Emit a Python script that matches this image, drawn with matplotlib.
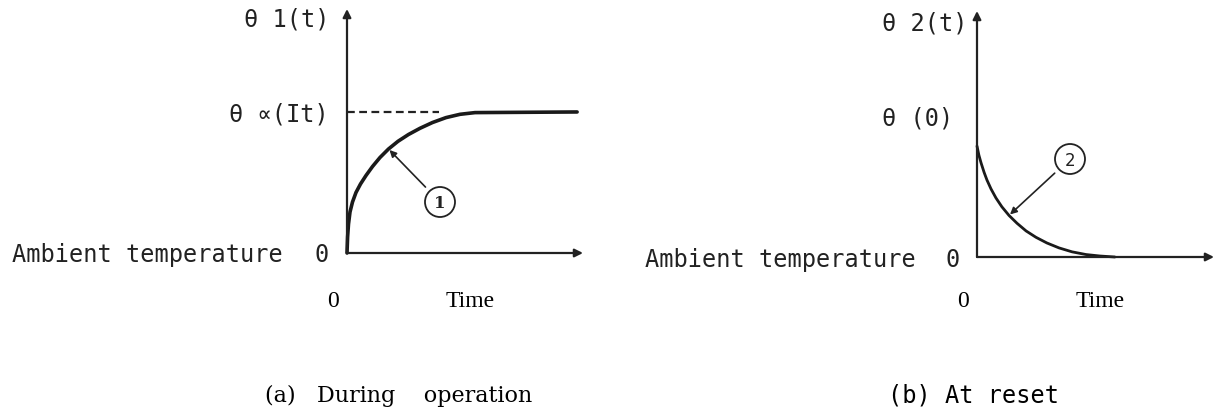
import matplotlib
matplotlib.use("Agg")
import matplotlib.pyplot as plt
from matplotlib.patches import Circle

# ---- data (normalised: time 0..1 along axis, temperature 0..1 along axis) ----
t_op = [0.0, 0.0025, 0.0064, 0.0127, 0.0233, 0.0381, 0.0572, 0.0805, 0.1081, 0.1398,
        0.1758, 0.2161, 0.2606, 0.3093, 0.3623, 0.4195, 0.4788, 0.5424, 0.975]
theta_op = [0.0, 0.0656, 0.1189, 0.1680, 0.2090, 0.2480, 0.2828, 0.3176, 0.3545, 0.3914,
            0.4262, 0.4578, 0.4857, 0.5111, 0.5348, 0.5549, 0.5684, 0.5754, 0.578]
theta_inf = 0.578          # steady-state level theta_inf(It)
dash_end = 0.39            # end of the dashed reference line

t_rs = [0.0, 0.008, 0.017, 0.030, 0.042, 0.059, 0.080, 0.105, 0.135, 0.169, 0.207,
        0.249, 0.295, 0.346, 0.401, 0.460, 0.519, 0.582]
theta_rs = [0.451, 0.414, 0.383, 0.344, 0.313, 0.277, 0.240, 0.204, 0.169, 0.137, 0.106,
            0.080, 0.057, 0.037, 0.021, 0.010, 0.004, 0.0]

W, H = 1221, 414
fig = plt.figure(figsize=(W / 100, H / 100), dpi=100)
fig.patch.set_facecolor("white")

MONO = ["DejaVu Sans Mono", "DejaVu Sans"]
SERIF = ["Liberation Serif", "DejaVu Serif"]
INK = "#222222"

# overlay axes in pixel coordinates for annotation text / circles
ov = fig.add_axes([0, 0, 1, 1])
ov.set_xlim(0, W)
ov.set_ylim(H, 0)
ov.axis("off")
ov.set_zorder(3)
ov.patch.set_alpha(0)


def panel(x0, y0, x1, y1):
    ax = fig.add_axes([x0 / W, 1 - y0 / H, (x1 - x0) / W, (y0 - y1) / H])
    ax.set_xlim(0, 1)
    ax.set_ylim(0, 1)
    ax.axis("off")
    ax.patch.set_alpha(0)
    for end in [(1, 0), (0, 1)]:
        ax.annotate("", xy=end, xytext=(0, 0),
                    arrowprops=dict(arrowstyle="-|>", lw=1.6, color=INK,
                                    mutation_scale=12, shrinkA=0, shrinkB=0),
                    annotation_clip=False)
    return ax


# ---------------- (a) During operation ----------------
ax1 = panel(347, 254, 583, 10)
ax1.plot([0, dash_end], [theta_inf, theta_inf], ls=(0, (3.5, 2)), lw=1.6, color=INK)
ax1.plot(t_op, theta_op, lw=2.6, color="#1a1a1a", solid_capstyle="round",
         solid_joinstyle="round", clip_on=False)

ov.text(329, 20, "θ 1(t)", family=MONO, fontsize=17, ha="right", va="center", color=INK)
ov.text(329, 115, "θ ∝(It)", family=MONO, fontsize=17, ha="right", va="center", color=INK)
ov.text(12, 255, "Ambient temperature", family=MONO, fontsize=17, ha="left", va="center", color=INK)
ov.text(322, 255, "0", family=MONO, fontsize=17, ha="center", va="center", color=INK)
ov.text(333, 302, "0", family=SERIF, fontsize=17, ha="center", va="center")
ov.text(470, 302, "Time", family=SERIF, fontsize=17, ha="center", va="center")
ov.text(399, 396, "(a)   During    operation", family=["DejaVu Serif"], fontsize=16,
        ha="center", va="center")

c1 = (440, 203)
ov.add_patch(Circle(c1, 15, fill=False, lw=1.3, color=INK))
ov.text(c1[0], c1[1] + 1, "1", family=["DejaVu Serif"], fontsize=12, fontweight="bold",
        ha="center", va="center", color=INK)
ov.annotate("", xy=(t_op[10], theta_op[10]), xycoords=ax1.transData,
            xytext=c1, textcoords="data",
            arrowprops=dict(arrowstyle="-|>", lw=1.2, color=INK,
                            mutation_scale=10, shrinkA=15, shrinkB=1))

# ---------------- (b) At reset ----------------
ax2 = panel(977, 258, 1214, 12)
ax2.plot(t_rs, theta_rs, lw=2.0, color="#1a1a1a", solid_capstyle="round",
         solid_joinstyle="round", clip_on=False)

ov.text(882, 23, "θ 2(t)", family=MONO, fontsize=17, ha="left", va="center", color=INK)
ov.text(882, 119, "θ (0)", family=MONO, fontsize=17, ha="left", va="center", color=INK)
ov.text(645, 260, "Ambient temperature", family=MONO, fontsize=17, ha="left", va="center", color=INK)
ov.text(953, 260, "0", family=MONO, fontsize=17, ha="center", va="center", color=INK)
ov.text(963, 302, "0", family=SERIF, fontsize=17, ha="center", va="center")
ov.text(1100, 302, "Time", family=SERIF, fontsize=17, ha="center", va="center")
ov.text(888, 396, "(b) At reset", family=MONO, fontsize=17, ha="left", va="center")

c2 = (1070, 160)
ov.add_patch(Circle(c2, 15, fill=False, lw=1.3, color=INK))
ov.text(c2[0], c2[1] + 1, "2", family=["DejaVu Sans"], fontsize=12,
        ha="center", va="center", color=INK)
ov.annotate("", xy=(t_rs[8], theta_rs[8]), xycoords=ax2.transData,
            xytext=c2, textcoords="data",
            arrowprops=dict(arrowstyle="-|>", lw=1.2, color=INK,
                            mutation_scale=10, shrinkA=15, shrinkB=1))

fig.savefig("out.png", dpi=100, facecolor="white")
